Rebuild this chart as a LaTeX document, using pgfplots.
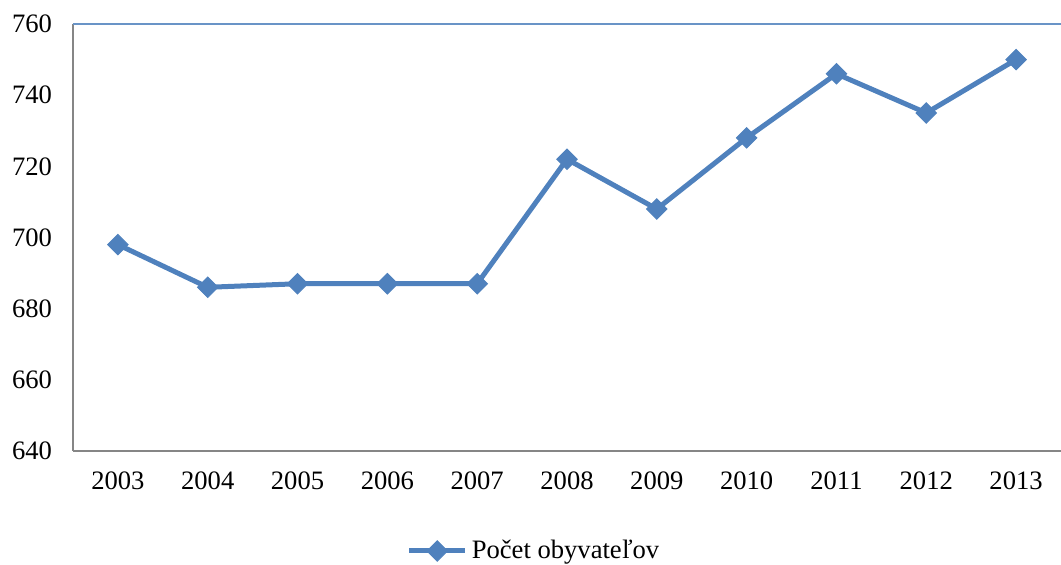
\documentclass[border=0pt]{standalone}
\usepackage{pgfplots}
\pgfplotsset{compat=1.18}
\usepackage{fontspec}
\setmainfont{Liberation Serif}
\definecolor{serblue}{HTML}{4F81BD}
\definecolor{axgray}{HTML}{868686}
\begin{document}
\fontsize{13}{15}\selectfont
\begin{tikzpicture}
\begin{axis}[
  name=ax,
  scale only axis,
  width=494pt, height=213.5pt,
  xmin=-0.5, xmax=10.5,
  ymin=640, ymax=760,
  ytick={640,660,...,760},
  xtick={0,...,10},
  xticklabels={2003,2004,2005,2006,2007,2008,2009,2010,2011,2012,2013},
  axis x line=bottom, axis y line=left,
  axis line style={draw=axgray, line width=1pt, -},
  major tick length=0pt,
  tick label style={font=\fontsize{13.3}{15}\selectfont},
  /pgf/number format/assume math mode=true,
  yticklabel style={xshift=-6pt},
  xticklabel style={yshift=-6pt},
  legend style={at={(0.4676,0)}, anchor=center, yshift=-50pt, draw=none, fill=none,
    font=\fontsize{13.3}{15}\selectfont, legend cell align=left},
  legend image code/.code={\draw[#1, mark repeat=2, mark phase=2] plot coordinates {(0pt,0pt) (14pt,0pt) (28pt,0pt)};},
  clip=false,
]
\draw[serblue!85, line width=1pt] (rel axis cs:0,1) -- (rel axis cs:1,1);
\addplot[serblue, line width=2.5pt, mark=square*, mark size=3.6pt,
  mark options={rotate=45, fill=serblue, draw=serblue, line width=0.5pt}]
  coordinates {(0,698) (1,686) (2,687) (3,687) (4,687) (5,722) (6,708) (7,728) (8,746) (9,735) (10,750)};
\addlegendentry{Počet obyvateľov}
\end{axis}
\pgfresetboundingbox
\useasboundingbox ([xshift=-36.5pt,yshift=-57pt]ax.south west) rectangle ([yshift=12pt]ax.north east);
\end{tikzpicture}
\end{document}
